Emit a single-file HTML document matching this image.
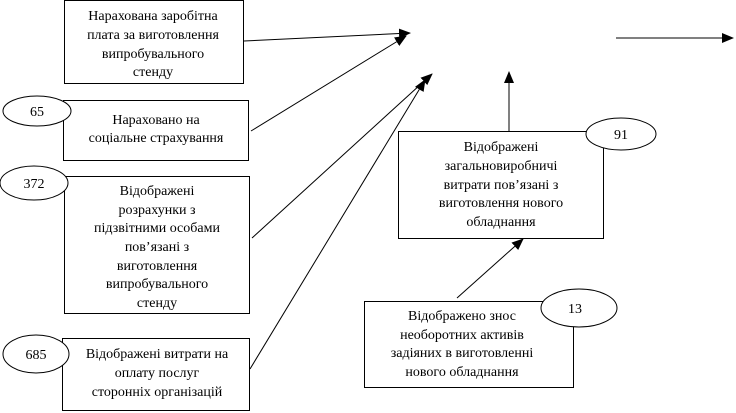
<!DOCTYPE html>
<html><head><meta charset="utf-8"><style>
html,body{margin:0;padding:0;background:#fff;width:736px;height:413px;overflow:hidden}
text{font-family:"Liberation Serif","Times New Roman","DejaVu Serif",serif !important;}
</style></head><body>
<svg width="736" height="413" viewBox="0 0 736 413" xmlns="http://www.w3.org/2000/svg">
<defs><marker id="a" markerWidth="12" markerHeight="10" refX="11" refY="5" orient="auto" markerUnits="userSpaceOnUse"><path d="M0,0 L12,5 L0,10 z" fill="#000"/></marker></defs>
<g fill="#fff" stroke="#000" stroke-width="1">
<rect x="64.5" y="0.5" width="179" height="83"/>
<rect x="63.5" y="100.5" width="185" height="60"/>
<rect x="64.5" y="176.5" width="185" height="137"/>
<rect x="62.5" y="338.5" width="187" height="72"/>
<rect x="398.5" y="131.5" width="205" height="107"/>
<rect x="364.5" y="301.5" width="209" height="86"/>
<ellipse cx="37" cy="111" rx="34" ry="15"/>
<ellipse cx="34" cy="183" rx="34" ry="17"/>
<ellipse cx="36" cy="354" rx="33" ry="19"/>
<ellipse cx="621" cy="134" rx="35" ry="16"/>
<ellipse cx="579" cy="308" rx="38" ry="19"/>
</g>
<g stroke="#000" stroke-width="1" fill="none" marker-end="url(#a)">
<line x1="244" y1="41" x2="410" y2="33"/>
<line x1="251" y1="131" x2="406" y2="36"/>
<line x1="252" y1="238" x2="432" y2="74"/>
<line x1="250" y1="369" x2="425" y2="80"/>
<line x1="509" y1="131" x2="509" y2="72"/>
<line x1="457" y1="298" x2="523" y2="239"/>
<line x1="616" y1="38" x2="733" y2="38"/>
</g>
<g font-family="Liberation Serif, serif" font-size="14" text-anchor="middle" fill="#000">
<text x="153" y="20">Нарахована заробітна</text>
<text x="153" y="39">плата за виготовлення</text>
<text x="153" y="58">випробувального</text>
<text x="153" y="76">стенду</text>
<text x="37" y="116">65</text>
<text x="156" y="124">Нараховано на</text>
<text x="156" y="142">соціальне страхування</text>
<text x="34" y="188">372</text>
<text x="157" y="195">Відображені</text>
<text x="157" y="214">розрахунки з</text>
<text x="157" y="232">підзвітними особами</text>
<text x="157" y="251">пов’язані з</text>
<text x="157" y="270">виготовлення</text>
<text x="157" y="288">випробувального</text>
<text x="157" y="307">стенду</text>
<text x="36" y="359">685</text>
<text x="157" y="358">Відображені витрати на</text>
<text x="157" y="377">оплату послуг</text>
<text x="157" y="396">сторонніх організацій</text>
<text x="501" y="151">Відображені</text>
<text x="501" y="170">загальновиробничі</text>
<text x="501" y="189">витрати пов’язані з</text>
<text x="501" y="207">виготовлення нового</text>
<text x="501" y="226">обладнання</text>
<text x="621" y="139">91</text>
<text x="462" y="320">Відображено знос</text>
<text x="462" y="339">необоротних активів</text>
<text x="462" y="357">задіяних в виготовленні</text>
<text x="462" y="376">нового обладнання</text>
<text x="575" y="313">13</text>
</g>
</svg>
</body></html>
